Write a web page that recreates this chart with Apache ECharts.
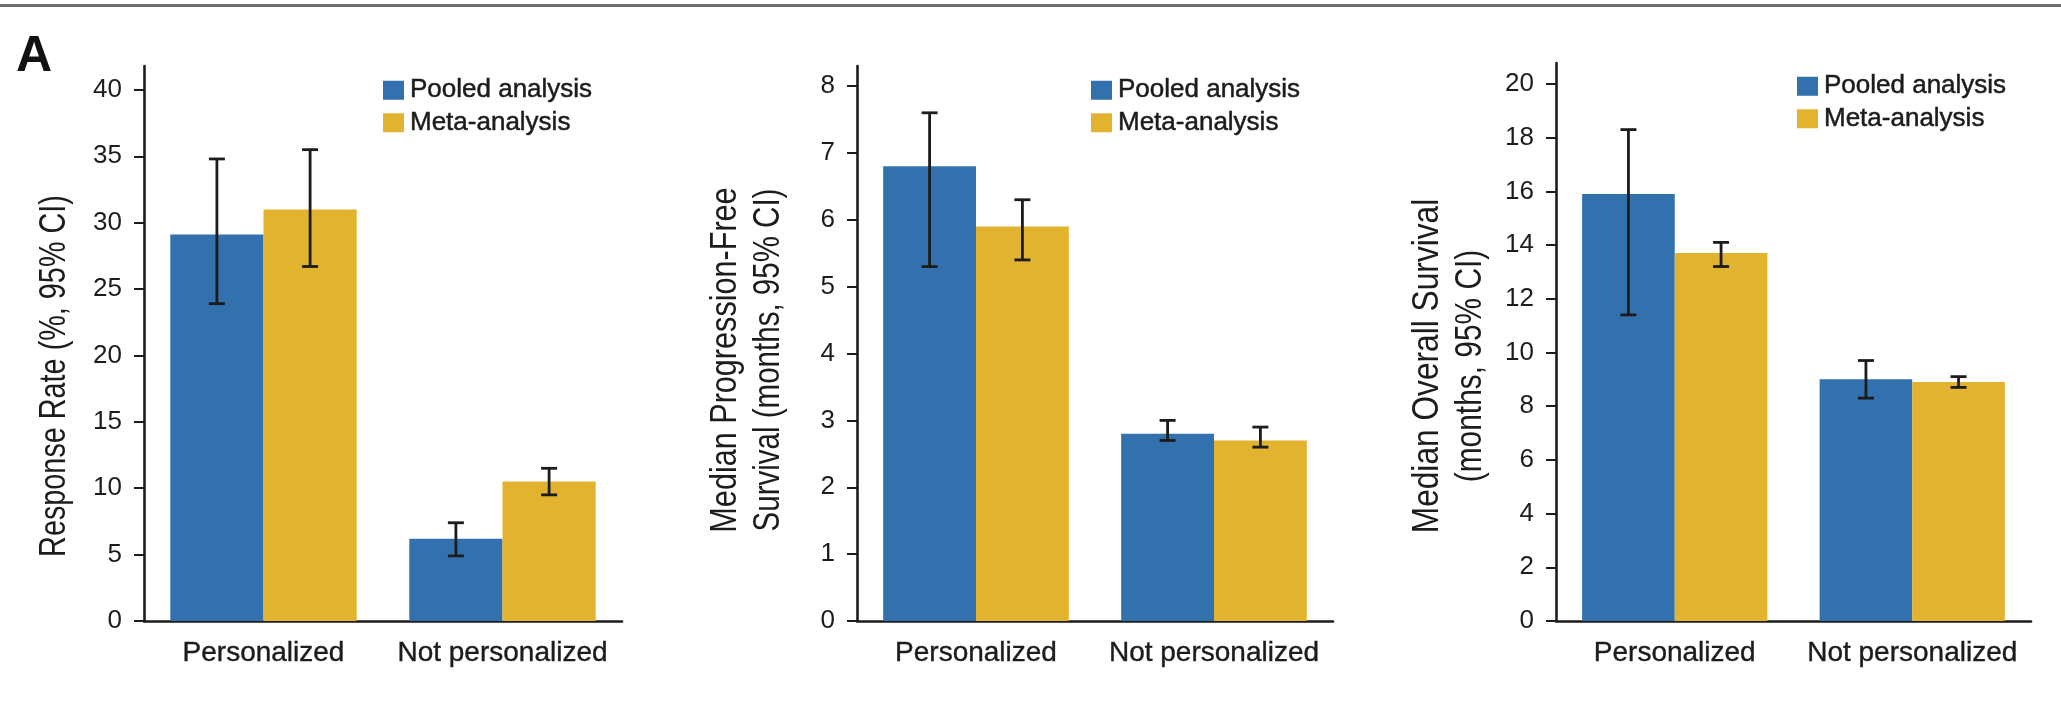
<!DOCTYPE html>
<html>
<head>
<meta charset="utf-8">
<script src="https://cdn.jsdelivr.net/npm/echarts@6/dist/echarts.min.js"></script>
<style>
  html, body { margin: 0; padding: 0; background: #ffffff; }
  #chart { width: 2061px; height: 718px; }
</style>
</head>
<body>
<div id="chart"></div>
<script>
// Categories and legend entries
const categories = ['Personalized', 'Not personalized'];
const seriesNames = ['Pooled analysis', 'Meta-analysis'];

// Response rate (%) with 95% CI
const rrPooled = [29.1, 6.2];
const rrPooledCI = [[23.9, 34.8], [4.9, 7.4]];
const rrMeta = [31.0, 10.5];
const rrMetaCI = [[26.7, 35.5], [9.5, 11.5]];

// Median progression-free survival (months) with 95% CI
const pfsPooled = [6.8, 2.8];
const pfsPooledCI = [[5.3, 7.6], [2.7, 3.0]];
const pfsMeta = [5.9, 2.7];
const pfsMetaCI = [[5.4, 6.3], [2.6, 2.9]];

// Median overall survival (months) with 95% CI
const osPooled = [15.9, 9.0];
const osPooledCI = [[11.4, 18.3], [8.3, 9.7]];
const osMeta = [13.7, 8.9];
const osMetaCI = [[13.2, 14.1], [8.7, 9.1]];

// Tick labels for each value axis
const rrTicks = [0, 5, 10, 15, 20, 25, 30, 35, 40];
const pfsTicks = [0, 1, 2, 3, 4, 5, 6, 7, 8];
const osTicks = [0, 2, 4, 6, 8, 10, 12, 14, 16, 18, 20];

// Axis titles, one entry per printed line
const rrTitle = ['Response Rate (%, 95% CI)'];
const pfsTitle = ['Median Progression-Free', 'Survival (months, 95% CI)'];
const osTitle = ['Median Overall Survival', '(months, 95% CI)'];

const BLUE = '#3371ae';
const GOLD = '#e2b32f';
const INK = '#1c1c1c';
const FONT = '"Liberation Sans", Arial, sans-serif';
const CAT_GAP = 0.22;

const panels = [
  { grid: { left: 144, top: 66, width: 478, height: 555 }, axisMax: 41.8, ticks: rrTicks,
    pooled: rrPooled, pooledCI: rrPooledCI, meta: rrMeta, metaCI: rrMetaCI,
    legend: { left: 383, top: 77 } },
  { grid: { left: 857, top: 66, width: 476, height: 555 }, axisMax: 8.3, ticks: pfsTicks,
    pooled: pfsPooled, pooledCI: pfsPooledCI, meta: pfsMeta, metaCI: pfsMetaCI,
    legend: { left: 1091, top: 77 } },
  { grid: { left: 1556, top: 63, width: 475, height: 558 }, axisMax: 20.78, ticks: osTicks,
    pooled: osPooled, pooledCI: osPooledCI, meta: osMeta, metaCI: osMetaCI,
    legend: { left: 1797, top: 73 } }
];

// Condensed, rotated axis-title line (squeezed along the text direction)
function titleLine(text, x, y, squeeze) {
  return {
    type: 'text', x: x, y: y, rotation: Math.PI / 2, scaleX: squeeze, scaleY: 1,
    style: { text: text, font: '36px ' + FONT, fill: INK, align: 'center', verticalAlign: 'middle' }
  };
}

// Error bar: vertical whisker with horizontal caps, centred on its bar
function errorBarRenderer(side) {
  return function (params, api) {
    const cat = api.value(0);
    const lo = api.coord([cat, api.value(1)]);
    const hi = api.coord([cat, api.value(2)]);
    const band = api.size([1, 0])[0];
    const barW = band * (1 - CAT_GAP) / 2;
    const x = lo[0] + side * barW / 2;
    const cap = 8;
    const style = { stroke: INK, lineWidth: 2.8, fill: null };
    return {
      type: 'group',
      children: [
        { type: 'line', shape: { x1: x, y1: hi[1], x2: x, y2: lo[1] }, style },
        { type: 'line', shape: { x1: x - cap, y1: hi[1], x2: x + cap, y2: hi[1] }, style },
        { type: 'line', shape: { x1: x - cap, y1: lo[1], x2: x + cap, y2: lo[1] }, style }
      ]
    };
  };
}

const option = {
  animation: false,
  backgroundColor: '#ffffff',
  textStyle: { fontFamily: FONT, color: INK },
  grid: [], xAxis: [], yAxis: [], legend: [], series: [],
  graphic: [
    { type: 'rect', shape: { x: 0, y: 4, width: 2061, height: 3 }, style: { fill: '#6e6e6e' } },
    { type: 'text', x: 16, y: 57, style: { text: 'A', font: 'bold 50px ' + FONT, fill: '#111', verticalAlign: 'middle' } },
    titleLine(rrTitle[0], 55, 376, 0.8),
    titleLine(pfsTitle[0], 726, 360, 0.85),
    titleLine(pfsTitle[1], 769, 360, 0.82),
    titleLine(osTitle[0], 1428, 366, 0.88),
    titleLine(osTitle[1], 1471, 366, 0.83)
  ]
};

panels.forEach(function (p, i) {
  option.grid.push(Object.assign({ containLabel: false }, p.grid));
  option.xAxis.push({
    type: 'category', gridIndex: i, data: categories,
    axisLine: { lineStyle: { color: INK, width: 2.6 } },
    axisTick: { alignWithLabel: true, length: 10, lineStyle: { color: INK, width: 2 } },
    axisLabel: { interval: 0, hideOverlap: false, fontSize: 28, color: INK, margin: 18, fontFamily: FONT,
      textBorderColor: INK, textBorderWidth: 0.4 }
  });
  option.yAxis.push({
    type: 'value', gridIndex: i, min: 0, max: p.axisMax,
    splitLine: { show: false },
    axisLine: { show: true, lineStyle: { color: INK, width: 2.6 } },
    axisTick: { show: true, length: 10, customValues: p.ticks, lineStyle: { color: INK, width: 2 } },
    axisLabel: { fontSize: 26, color: INK, margin: 22, customValues: p.ticks, fontFamily: FONT }
  });
  option.legend.push({
    data: seriesNames, orient: 'vertical', left: p.legend.left, top: p.legend.top,
    icon: 'rect', itemWidth: 21, itemHeight: 19, itemGap: 6, padding: 0,
    textStyle: { fontSize: 26, color: INK, fontFamily: FONT, padding: [0, 0, 0, 1],
      textBorderColor: INK, textBorderWidth: 0.5 },
    selectedMode: false
  });
  option.series.push(
    { name: seriesNames[0], type: 'bar', xAxisIndex: i, yAxisIndex: i, data: p.pooled,
      itemStyle: { color: BLUE }, barGap: '0%', barCategoryGap: (CAT_GAP * 100) + '%' },
    { name: seriesNames[1], type: 'bar', xAxisIndex: i, yAxisIndex: i, data: p.meta,
      itemStyle: { color: GOLD }, barGap: '0%', barCategoryGap: (CAT_GAP * 100) + '%' },
    { type: 'custom', xAxisIndex: i, yAxisIndex: i, renderItem: errorBarRenderer(-1), z: 5,
      data: p.pooledCI.map(function (ci, k) { return [k, ci[0], ci[1]]; }) },
    { type: 'custom', xAxisIndex: i, yAxisIndex: i, renderItem: errorBarRenderer(1), z: 5,
      data: p.metaCI.map(function (ci, k) { return [k, ci[0], ci[1]]; }) }
  );
});

const chart = echarts.init(document.getElementById('chart'), null, { renderer: 'canvas' });
chart.setOption(option);
</script>
</body>
</html>
